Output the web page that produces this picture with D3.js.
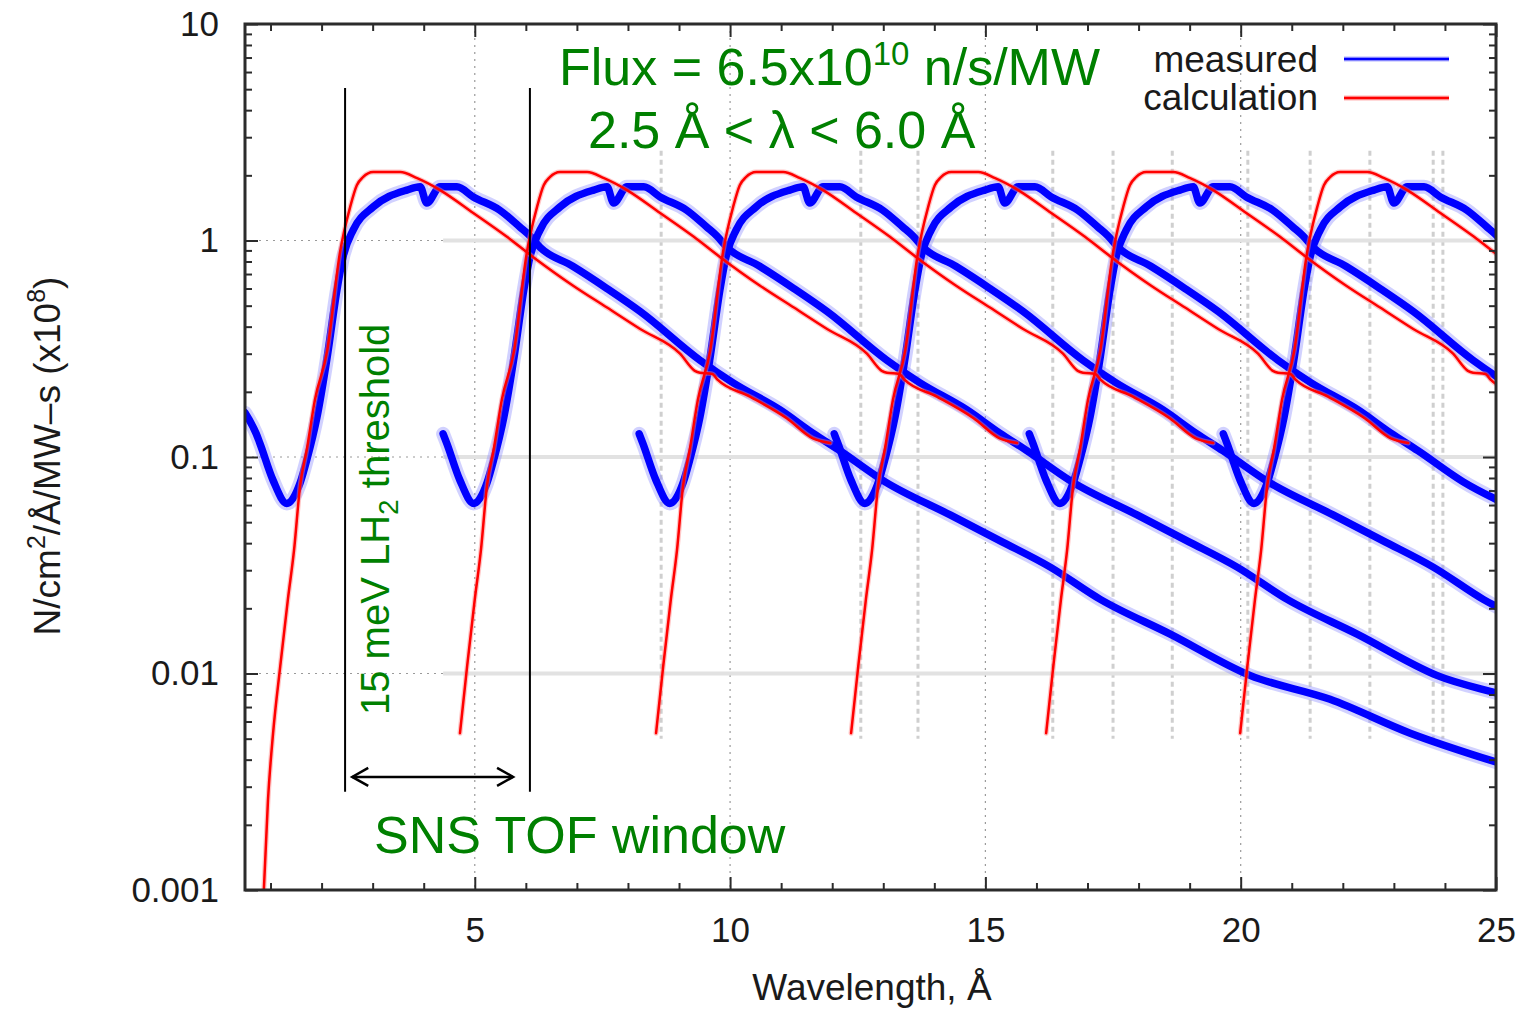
<!DOCTYPE html>
<html>
<head>
<meta charset="utf-8">
<script src="https://cdn.jsdelivr.net/npm/d3@7"></script>
<style>
  body { margin: 0; background: #fff; }
  svg { display: block; font-family: "Liberation Sans", Arial, sans-serif; }
</style>
</head>
<body>
<svg id="chart" width="1526" height="1009"></svg>
<script>
"use strict";

// One TOF frame of the measured spectrum (wavelength in Å, flux x1e8 n/cm2/Å/MW-s)
var measLambda = [0.5, 0.72, 0.79, 1.05, 1.32, 1.58, 1.71, 1.91, 2.11, 2.30, 2.42, 2.62, 3.01, 3.67, 3.93, 4.06,
  4.32, 4.65, 4.97, 5.49, 5.89, 6.08, 6.28, 6.92, 7.59, 8.24, 9.41, 10.06, 10.98, 11.62, 12.15, 13.03,
  14.31, 15.29, 16.27, 17.25, 18.62, 20.18, 21.75, 23.32, 25.0];
var measFlux = [0.16, 0.128, 0.116, 0.078, 0.061, 0.076, 0.097, 0.153, 0.29, 0.59, 0.84, 1.12, 1.43, 1.71, 1.77, 1.49,
  1.77, 1.77, 1.59, 1.38, 1.15, 1.05, 0.93, 0.76, 0.60, 0.47, 0.28, 0.22, 0.165, 0.129, 0.107, 0.077,
  0.054, 0.041, 0.031, 0.022, 0.0152, 0.0098, 0.0076, 0.0053, 0.0039];

// Same frame, calculation
var calcLambda = [0.86, 0.95, 1.05, 1.19, 1.34, 1.46, 1.58, 1.71, 1.87, 2.11, 2.36, 2.56, 2.69, 2.81, 3.01, 3.54,
  3.87, 4.32, 4.97, 5.63, 6.14, 6.92, 7.59, 8.24, 9.02, 9.31, 9.41, 9.65, 9.76, 10.39, 11.11, 11.62, 11.96];
var calcFlux = [0.0009, 0.0026, 0.0053, 0.0108, 0.022, 0.037, 0.074, 0.108, 0.184, 0.31, 0.88, 1.43, 1.80, 1.96, 2.07, 2.07,
  1.94, 1.71, 1.34, 1.04, 0.84, 0.62, 0.49, 0.39, 0.30, 0.25, 0.245, 0.242, 0.227, 0.19, 0.151, 0.122, 0.116];

// wavelength offset of each repeated frame
var frameShift = [0, 3.66, 7.50, 11.32, 15.14, 18.94];
// first frame wavelength drawn for the measured copies, lowest flux drawn for the calculated copies
var measFrom = [0.5, 0.72, 0.72, 0.72, 0.72, 0.72];
var calcFloor = [0.0009, 0.005, 0.005, 0.005, 0.005, 0.005];

var xMajor = [5, 10, 15, 20, 25];
var xMinor = d3.range(1, 25);
var yMajor = [0.001, 0.01, 0.1, 1, 10];
var yLabels = ["0.001", "0.01", "0.1", "1", "10"];

// grid lines left over from the overlaid frames
var overlayX = [8.65, 12.56, 13.68, 16.32, 17.50, 18.66, 20.14, 21.36, 22.53, 23.77, 23.96];
var overlayY = [1, 0.1, 0.01];

var svg = d3.select("#chart");
var x = d3.scaleLinear().domain([0.5, 25]).range([245, 1496]);
var y = d3.scaleLog().domain([0.001, 10]).range([890, 24]);

var yMinor = [];
yMajor.slice(0, -1).forEach(function(d) {
  for (var m = 2; m <= 9; m++) yMinor.push(d * m);
});

svg.append("defs").append("clipPath").attr("id", "plotClip")
  .append("rect").attr("x", 245).attr("y", 24).attr("width", 1251).attr("height", 866);

// dotted grid
var grid = svg.append("g").attr("stroke", "#9a9a9a").attr("stroke-width", 1.2).attr("stroke-dasharray", "2,5");
grid.selectAll(".gx").data(xMajor.slice(0, -1)).enter().append("line")
  .attr("x1", x).attr("x2", x).attr("y1", 24).attr("y2", 890);
grid.selectAll(".gy").data(overlayY).enter().append("line")
  .attr("x1", 245).attr("x2", x(4.38)).attr("y1", y).attr("y2", y);

// overlay grid
var over = svg.append("g");
over.selectAll(".ov").data(overlayX).enter().append("line")
  .attr("x1", x).attr("x2", x).attr("y1", y(2.6)).attr("y2", y(0.005))
  .attr("stroke", "#cfcfcf").attr("stroke-width", 3).attr("stroke-dasharray", "5,4");
over.selectAll(".oh").data(overlayY).enter().append("line")
  .attr("x1", x(4.38)).attr("x2", 1496).attr("y1", y).attr("y2", y)
  .attr("stroke", "#e2e2e2").attr("stroke-width", 4);

var line = d3.line().curve(d3.curveMonotoneX)
  .x(function(d) { return x(d.x); }).y(function(d) { return y(d.y); });

var plot = svg.append("g").attr("clip-path", "url(#plotClip)").attr("fill", "none")
  .attr("stroke-linejoin", "round").attr("stroke-linecap", "round");

var measFrames = frameShift.map(function(s, k) {
  return measLambda.map(function(l, i) { return { l: l, x: l + s, y: measFlux[i] }; })
    .filter(function(d) { return d.l >= measFrom[k]; });
});
var calcFrames = frameShift.map(function(s, k) {
  return calcLambda.map(function(l, i) { return { l: l, x: l + s, y: calcFlux[i] }; })
    .filter(function(d) { return d.y >= calcFloor[k]; });
});

// measured: soft halo + solid core
plot.selectAll(".mh").data(measFrames).enter().append("path")
  .attr("d", line).attr("stroke", "#8c8cff").attr("stroke-opacity", 0.4).attr("stroke-width", 14);
plot.selectAll(".mc").data(measFrames).enter().append("path")
  .attr("d", line).attr("stroke", "#0000ff").attr("stroke-width", 7.5);

plot.selectAll(".ch").data(calcFrames).enter().append("path")
  .attr("d", line).attr("stroke", "#ff8080").attr("stroke-opacity", 0.45).attr("stroke-width", 5);
plot.selectAll(".cc").data(calcFrames).enter().append("path")
  .attr("d", line).attr("stroke", "#ff0000").attr("stroke-width", 2.5);

// TOF window markers
var win = svg.append("g").attr("stroke", "#000").attr("stroke-width", 2).attr("fill", "none");
[2.46, 6.08].forEach(function(l) {
  win.append("line").attr("x1", x(l)).attr("x2", x(l)).attr("y1", y(5.06)).attr("y2", y(0.00284));
});
var ay = y(0.00333), ax1 = x(2.6), ax2 = x(5.75);
win.append("line").attr("x1", ax1).attr("x2", ax2).attr("y1", ay).attr("y2", ay).attr("stroke-width", 2.5);
win.append("path").attr("stroke-width", 2.5)
  .attr("d", "M" + (ax1 + 16) + "," + (ay - 9) + "L" + ax1 + "," + ay + "L" + (ax1 + 16) + "," + (ay + 9));
win.append("path").attr("stroke-width", 2.5)
  .attr("d", "M" + (ax2 - 16) + "," + (ay - 9) + "L" + ax2 + "," + ay + "L" + (ax2 - 16) + "," + (ay + 9));

// frame and ticks
svg.append("rect").attr("x", 245).attr("y", 24).attr("width", 1251).attr("height", 866)
  .attr("fill", "none").attr("stroke", "#2b2b2b").attr("stroke-width", 3);

function styleAxis(g) {
  g.select(".domain").remove();
  g.selectAll(".tick line").attr("stroke", "#2b2b2b").attr("stroke-width", 2);
  g.selectAll(".tick text").attr("fill", "#1a1a1a").style("font-size", "35px")
    .style("font-family", "'Liberation Sans', Arial, sans-serif");
}

svg.append("g").attr("transform", "translate(0,890)")
  .call(d3.axisBottom(x).tickValues(xMajor).tickSizeInner(-13).tickSizeOuter(0).tickPadding(27).tickFormat(d3.format("d")))
  .call(styleAxis);
svg.append("g").attr("transform", "translate(0,890)")
  .call(d3.axisBottom(x).tickValues(xMinor.filter(function(d) { return d % 5; })).tickSizeInner(-7).tickSizeOuter(0).tickFormat(""))
  .call(styleAxis);
svg.append("g").attr("transform", "translate(0,24)")
  .call(d3.axisTop(x).tickValues(xMajor).tickSizeInner(-13).tickSizeOuter(0).tickFormat(""))
  .call(styleAxis);
svg.append("g").attr("transform", "translate(0,24)")
  .call(d3.axisTop(x).tickValues(xMinor.filter(function(d) { return d % 5; })).tickSizeInner(-7).tickSizeOuter(0).tickFormat(""))
  .call(styleAxis);

svg.append("g").attr("transform", "translate(245,0)")
  .call(d3.axisLeft(y).tickValues(yMajor).tickSizeInner(-13).tickSizeOuter(0).tickPadding(26)
    .tickFormat(function(d, i) { return yLabels[i]; }))
  .call(styleAxis);
svg.append("g").attr("transform", "translate(245,0)")
  .call(d3.axisLeft(y).tickValues(yMinor).tickSizeInner(-7).tickSizeOuter(0).tickFormat(""))
  .call(styleAxis);
svg.append("g").attr("transform", "translate(1496,0)")
  .call(d3.axisRight(y).tickValues(yMajor).tickSizeInner(-13).tickSizeOuter(0).tickFormat(""))
  .call(styleAxis);
svg.append("g").attr("transform", "translate(1496,0)")
  .call(d3.axisRight(y).tickValues(yMinor).tickSizeInner(-7).tickSizeOuter(0).tickFormat(""))
  .call(styleAxis);

// axis titles
svg.append("text").attr("x", 872).attr("y", 1000).attr("text-anchor", "middle")
  .attr("fill", "#1a1a1a").style("font-size", "37px").text("Wavelength, Å");

var yt = svg.append("text").attr("transform", "translate(60,456) rotate(-90)").attr("text-anchor", "middle")
  .attr("fill", "#1a1a1a").style("font-size", "37px");
yt.append("tspan").text("N/cm");
yt.append("tspan").attr("dy", -15).style("font-size", "25px").text("2");
yt.append("tspan").attr("dy", 15).text("/Å/MW–s (x10");
yt.append("tspan").attr("dy", -15).style("font-size", "25px").text("8");
yt.append("tspan").attr("dy", 15).text(")");

// legend
var legendItems = [
  { name: "measured", color: "#0000ff", ty: 72, ly: 59 },
  { name: "calculation", color: "#ff0000", ty: 110, ly: 98 }
];
var leg = svg.append("g").selectAll("g").data(legendItems).enter().append("g");
leg.append("text").attr("x", 1318).attr("y", function(d) { return d.ty; }).attr("text-anchor", "end")
  .attr("fill", "#1a1a1a").style("font-size", "37px").text(function(d) { return d.name; });
leg.append("line").attr("x1", 1344).attr("x2", 1449)
  .attr("y1", function(d) { return d.ly; }).attr("y2", function(d) { return d.ly; })
  .attr("stroke", function(d) { return d.color; }).attr("stroke-width", 5).attr("stroke-opacity", 0.3);
leg.append("line").attr("x1", 1344).attr("x2", 1449)
  .attr("y1", function(d) { return d.ly; }).attr("y2", function(d) { return d.ly; })
  .attr("stroke", function(d) { return d.color; }).attr("stroke-width", 2.5);

// green annotations
var green = "#008000";
var flux = svg.append("text").attr("x", 559).attr("y", 85).attr("fill", green).style("font-size", "52px");
flux.append("tspan").text("Flux = 6.5x10");
flux.append("tspan").attr("dy", -20).style("font-size", "33px").text("10");
flux.append("tspan").attr("dy", 20).text(" n/s/MW");

svg.append("text").attr("x", 588).attr("y", 148).attr("fill", green).style("font-size", "52px")
  .text("2.5 Å < λ < 6.0 Å");

svg.append("text").attr("x", 374).attr("y", 853).attr("fill", green).style("font-size", "52px")
  .text("SNS TOF window");

var thr = svg.append("text").attr("transform", "translate(389,715) rotate(-90)").attr("fill", green)
  .style("font-size", "40px");
thr.append("tspan").text("15 meV LH");
thr.append("tspan").attr("dy", 9).style("font-size", "28px").text("2");
thr.append("tspan").attr("dy", -9).text(" threshold");
</script>
</body>
</html>
